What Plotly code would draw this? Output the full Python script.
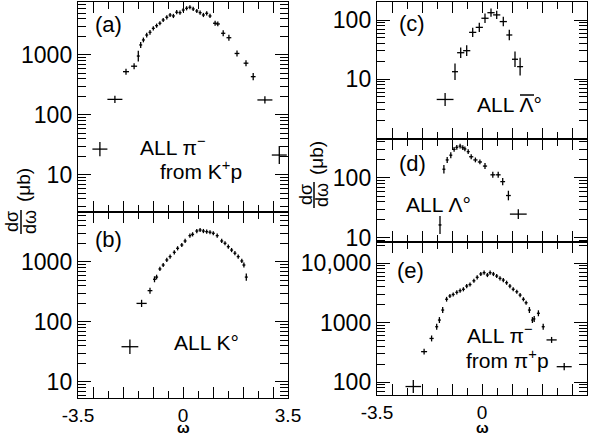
import numpy as np
import plotly.graph_objects as go

# ---------------- data ----------------
# (a) all pi- from K+p
w_a = [-2.77, -2.27, -1.90, -1.63, -1.49, -1.41, -1.32, -1.21, -1.10, -0.99, -0.88, -0.77,
       -0.66, -0.54, -0.43, -0.32, -0.21, -0.10, 0.01, 0.12, 0.23, 0.34, 0.46, 0.57, 0.68,
       0.79, 0.90, 1.07, 1.16, 1.34, 1.53, 1.80, 2.10, 2.34, 2.73, 3.21]
v_a = [27, 182, 527, 650, 960, 1470, 1780, 2150, 2390, 2780, 3080, 3380, 3830, 4250, 4640,
       4470, 5160, 5080, 5620, 6000, 6240, 5850, 5410, 5080, 4640, 4950, 4470, 3380, 3290,
       2300, 1940, 1060, 730, 435, 178, 21.5]
ex_a = [0.25, 0.25, 0.10, 0.10, 0.05, 0.05, 0.05, 0.05, 0.05, 0.05, 0.05, 0.05, 0.05, 0.05,
        0.05, 0.05, 0.05, 0.05, 0.05, 0.05, 0.05, 0.05, 0.05, 0.05, 0.05, 0.05, 0.05, 0.07,
        0.07, 0.07, 0.08, 0.08, 0.08, 0.08, 0.25, 0.25]
ey_a = [0.12, 0.06, 0.05, 0.05, 0.09, 0.05, 0.04, 0.04, 0.04, 0.035, 0.035, 0.035, 0.035,
        0.035, 0.035, 0.035, 0.035, 0.035, 0.035, 0.035, 0.035, 0.035, 0.035, 0.035, 0.035,
        0.035, 0.035, 0.04, 0.04, 0.05, 0.05, 0.05, 0.05, 0.06, 0.06, 0.15]

# (b) all K0
w_b = [-1.77, -1.38, -1.10, -0.95, -0.88, -0.77, -0.66, -0.54, -0.43, -0.29, -0.18, -0.04,
       0.07, 0.23, 0.32, 0.46, 0.57, 0.68, 0.79, 0.90, 1.01, 1.14, 1.29, 1.40, 1.51, 1.62,
       1.73, 1.84, 1.96, 2.03, 2.11]
v_b = [38.7, 204, 333, 515, 560, 765, 890, 1080, 1230, 1450, 1690, 1920, 2240, 2750, 2890,
       3280, 3410, 3280, 3200, 3130, 3010, 2750, 2240, 2050, 1800, 1580, 1400, 1230, 1040,
       890, 560]
ex_b = [0.28, 0.17, 0.08, 0.05, 0.05, 0.05, 0.05, 0.05, 0.05, 0.05, 0.05, 0.05, 0.05, 0.05,
        0.05, 0.05, 0.05, 0.05, 0.05, 0.05, 0.05, 0.05, 0.05, 0.05, 0.05, 0.05, 0.05, 0.05,
        0.05, 0.05, 0.05]
ey_b = [0.12, 0.06, 0.05, 0.05, 0.04, 0.035, 0.035, 0.035, 0.035, 0.035, 0.035, 0.035,
        0.035, 0.035, 0.035, 0.035, 0.035, 0.035, 0.035, 0.035, 0.035, 0.035, 0.035, 0.035,
        0.035, 0.035, 0.035, 0.035, 0.035, 0.04, 0.06]

# (c) all anti-Lambda0
w_c = [-1.23, -0.90, -0.71, -0.51, -0.31, -0.09, 0.10, 0.30, 0.49, 0.71, 0.91, 1.10, 1.27]
v_c = [4.5, 13.3, 27.9, 30.2, 61.7, 75, 107, 133, 122, 94, 55.7, 21.6, 16.2]
ex_c = [0.28, 0.10, 0.12, 0.12, 0.12, 0.12, 0.12, 0.12, 0.12, 0.12, 0.10, 0.10, 0.10]
ey_c = [0.11, 0.14, 0.09, 0.09, 0.08, 0.08, 0.08, 0.07, 0.07, 0.08, 0.09, 0.13, 0.15]

# (d) all Lambda0
w_d = [-1.40, -1.27, -1.16, -1.04, -0.93, -0.84, -0.73, -0.64, -0.57, -0.46, -0.36, -0.22,
       -0.07, 0.10, 0.36, 0.54, 0.69, 0.88, 1.21]
v_d = [16.5, 140, 200, 240, 300, 325, 340, 320, 305, 275, 226, 200, 185, 158, 113, 113, 87,
       51, 25]
ex_d = [0.05, 0.05, 0.05, 0.05, 0.05, 0.05, 0.05, 0.05, 0.05, 0.05, 0.07, 0.07, 0.07, 0.07,
        0.08, 0.08, 0.08, 0.08, 0.28]
ey_d = [0.15, 0.07, 0.05, 0.05, 0.04, 0.04, 0.04, 0.04, 0.04, 0.04, 0.04, 0.04, 0.04, 0.05,
        0.05, 0.05, 0.06, 0.08, 0.08]

# (e) all pi- from pi+p
w_e = [-2.29, -1.93, -1.68, -1.51, -1.42, -1.31, -1.18, -1.07, -0.96, -0.84, -0.73, -0.62,
       -0.51, -0.40, -0.27, -0.16, -0.04, 0.07, 0.18, 0.27, 0.38, 0.49, 0.60, 0.71, 0.82,
       0.93, 1.04, 1.16, 1.27, 1.38, 1.47, 1.58, 1.68, 1.74, 1.88, 2.04, 2.32, 2.74]
v_e = [84, 324, 540, 850, 1100, 1620, 2460, 2790, 2960, 3210, 3430, 3620, 4100, 4350, 5030,
       5750, 6530, 6880, 6280, 6880, 6530, 6040, 5520, 5170, 4660, 4100, 3620, 3290, 2890,
       2460, 2150, 1620, 1100, 1150, 1430, 850, 510, 181]
ex_e = [0.26, 0.10, 0.07, 0.05, 0.05, 0.05, 0.05, 0.05, 0.05, 0.05, 0.05, 0.05, 0.05, 0.05,
        0.05, 0.05, 0.05, 0.05, 0.05, 0.05, 0.05, 0.05, 0.05, 0.05, 0.05, 0.05, 0.05, 0.05,
        0.05, 0.05, 0.05, 0.05, 0.04, 0.04, 0.05, 0.05, 0.17, 0.25]
ey_e = [0.11, 0.05, 0.05, 0.05, 0.05, 0.05, 0.04, 0.035, 0.035, 0.035, 0.035, 0.035, 0.035,
        0.035, 0.035, 0.035, 0.035, 0.035, 0.035, 0.035, 0.035, 0.035, 0.035, 0.035, 0.035,
        0.035, 0.035, 0.035, 0.035, 0.035, 0.035, 0.05, 0.05, 0.05, 0.05, 0.05, 0.05, 0.06]

x_tickvals = [-3.5, -3, -2, -1, 0, 1, 2, 3, 3.5]
x_ticktext = ["-3.5", "", "", "", "0", "", "", "", "3.5"]
x_minor_ticks = [-2.5, -1.5, -0.5, 0.5, 1.5, 2.5]
y_tickvals_a = [10, 100, 1000]
y_ticktext_a = ["10", "100", "1000"]
y_tickvals_e = [100, 1000, 10000]
y_ticktext_e = ["100", "1000", "10,000"]
y_tickvals_c = [10, 100]
y_ticktext_c = ["10", "100"]

# ---------------- figure ----------------
W, H = 600, 438
FONT = "Liberation Sans"
BLACK = "black"


def px(x, y):
    return x / W, 1 - y / H


fig = go.Figure()

panels = [
    (w_a, v_a, ex_a, ey_a, "x", "y"),
    (w_b, v_b, ex_b, ey_b, "x2", "y2"),
    (w_c, v_c, ex_c, ey_c, "x3", "y3"),
    (w_d, v_d, ex_d, ey_d, "x4", "y4"),
    (w_e, v_e, ex_e, ey_e, "x5", "y5"),
]
for w, v, ex, ey, xa, ya in panels:
    v = np.array(v, dtype=float)
    ey = np.array(ey, dtype=float)
    up = v * (10 ** ey - 1)
    dn = v * (1 - 10 ** (-ey))
    fig.add_trace(go.Scatter(
        x=w, y=v, mode="markers", xaxis=xa, yaxis=ya,
        marker=dict(size=1, color=BLACK),
        error_x=dict(type="data", array=ex, color=BLACK, thickness=1.3, width=0),
        error_y=dict(type="data", array=up, arrayminus=dn, symmetric=False,
                     color=BLACK, thickness=1.3, width=0),
        showlegend=False, hoverinfo="skip"))

minor_log = [m * 10 ** k for k in range(-1, 5) for m in range(2, 10)]


def xaxis(dom, anchor, labels):
    return dict(domain=dom, anchor=anchor, range=[-3.5, 3.5], automargin=False,
                tickmode="array", tickvals=x_tickvals, ticktext=x_ticktext, tickangle=0,
                ticks="inside", ticklen=11, tickwidth=1.3, tickcolor=BLACK,
                minor=dict(tickmode="array", tickvals=x_minor_ticks,
                           ticks="inside", ticklen=7, tickwidth=1.3, tickcolor=BLACK),
                showline=True, linewidth=1.4, linecolor=BLACK, mirror="ticks",
                showgrid=False, zeroline=False, showticklabels=labels,
                tickfont=dict(family=FONT, size=19, color=BLACK))


def yaxis(dom, anchor, rng, tv, tt):
    return dict(domain=dom, anchor=anchor, type="log", range=rng, automargin=False,
                tickmode="array", tickvals=tv, ticktext=tt, tickangle=0,
                ticks="inside", ticklen=13, tickwidth=1.3, tickcolor=BLACK,
                minor=dict(tickmode="array", tickvals=minor_log,
                           ticks="inside", ticklen=8, tickwidth=1.1, tickcolor=BLACK),
                showline=True, linewidth=1.4, linecolor=BLACK, mirror="ticks",
                showgrid=False, zeroline=False,
                tickfont=dict(family=FONT, size=23, color=BLACK))


xl = [78 / W, 288 / W]
xr = [377 / W, 587 / W]
dom_a = [1 - 212 / H, 1 - 2 / H]
dom_b = [1 - 398 / H, 1 - 212 / H]
dom_c = [1 - 139 / H, 1 - 2 / H]
dom_d = [1 - 242 / H, 1 - 139 / H]
dom_e = [1 - 395 / H, 1 - 242 / H]

fig.update_layout(
    template="none",
    width=W, height=H, margin=dict(l=0, r=0, t=0, b=0, autoexpand=False),
    paper_bgcolor="white", plot_bgcolor="rgba(0,0,0,0)",
    font=dict(family=FONT, color=BLACK),
    xaxis=xaxis(xl, "y", False),
    yaxis=yaxis(dom_a, "x", [0.383, 3.883], y_tickvals_a, y_ticktext_a),
    xaxis2=xaxis(xl, "y2", True),
    yaxis2=yaxis(dom_b, "x2", [0.733, 3.833], y_tickvals_a, y_ticktext_a),
    xaxis3=xaxis(xr, "y3", False),
    yaxis3=yaxis(dom_c, "x3", [-0.017, 2.305], y_tickvals_c, y_ticktext_c),
    xaxis4=xaxis(xr, "y4", False),
    yaxis4=yaxis(dom_d, "x4", [0.933, 2.65], y_tickvals_c, y_ticktext_c),
    xaxis5=xaxis(xr, "y5", True),
    yaxis5=yaxis(dom_e, "x5", [1.782, 4.353], y_tickvals_e, y_ticktext_e),
)

ann = []


def text(x, y, s, size=21, angle=0, xanchor="center", yanchor="middle"):
    ax, ay = px(x, y)
    ann.append(dict(x=ax, y=ay, xref="paper", yref="paper", text=s, showarrow=False,
                    xanchor=xanchor, yanchor=yanchor, textangle=angle,
                    font=dict(family=FONT, size=size, color=BLACK)))


# panel labels
text(108, 25, "(a)", 22)
text(108, 239, "(b)", 22)
text(412, 23, "(c)", 22)
text(412, 163, "(d)", 22)
text(410, 270, "(e)", 22)

# process labels
text(173, 146, "ALL π<sup>−</sup>", 21)
text(201, 170, "from K<sup>+</sup>p", 21)
text(207, 342, "ALL K°", 21)
text(475, 104, "ALL Λ°", 21, xanchor="left")
text(438, 205, "ALL Λ°", 21)
text(500, 334, "ALL π<sup>−</sup>", 21)
text(507, 359, "from π<sup>+</sup>p", 21)

# x-axis titles
text(183, 438, "<b>ω</b>", 15, yanchor="bottom")
text(482, 438, "<b>ω</b>", 15, yanchor="bottom")

# y-axis titles (rotated fraction dσ/dω (μb))
text(12, 222, "dσ", 18, -90)
text(30, 222, "dω", 18, -90)
text(23, 185, "(μb)", 19, -90)
text(306, 195, "dσ", 18, -90)
text(322, 195, "dω", 18, -90)
text(316, 158, "(μb)", 19, -90)

fig.update_layout(annotations=ann)

shapes = []
# fraction bars of the rotated y titles and the bar over the anti-Lambda
for (x0, y0, x1, y1) in [(21, 210, 21, 234), (314, 182, 314, 208), (520, 95, 534, 95)]:
    a0, b0 = px(x0, y0)
    a1, b1 = px(x1, y1)
    shapes.append(dict(type="line", xref="paper", yref="paper", x0=a0, x1=a1, y0=b0, y1=b1,
                       line=dict(color=BLACK, width=1.5)))
fig.update_layout(shapes=shapes)

fig.write_html("out.html", config={"displayModeBar": False},
               post_script="document.body.style.margin='0';"
                           "document.body.style.overflow='hidden';")
